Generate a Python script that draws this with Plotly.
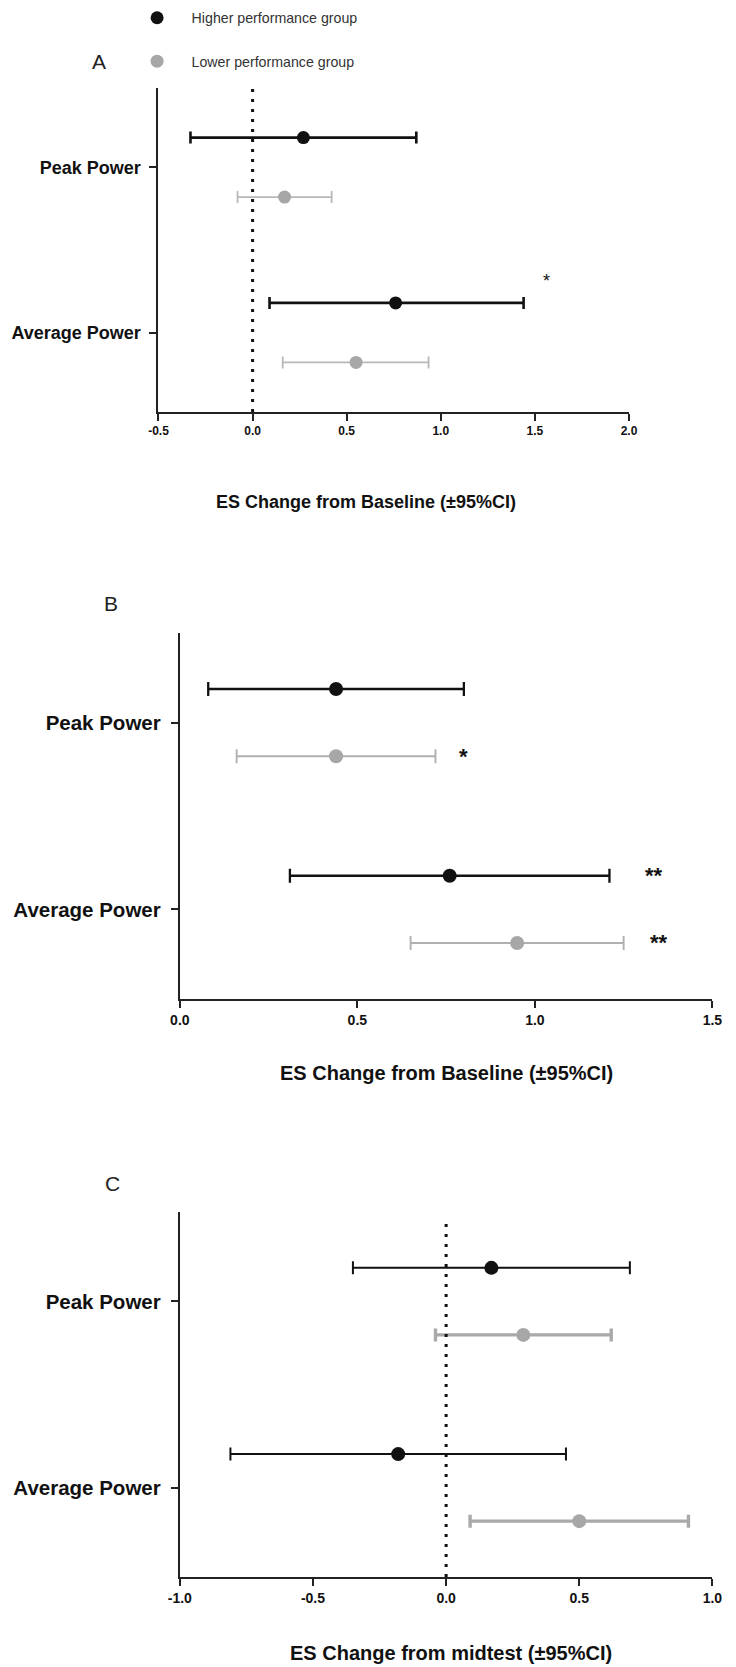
import plotly.graph_objects as go

W, H = 736, 1667

categories = ["Peak Power", "Average Power"]
groups = ["Higher performance group", "Lower performance group"]

# Panel A  (ES change from baseline)
a_hi_est = [0.27, 0.76]
a_hi_lo = [-0.33, 0.09]
a_hi_hi = [0.87, 1.44]
a_lo_est = [0.17, 0.55]
a_lo_lo = [-0.08, 0.16]
a_lo_hi = [0.42, 0.935]

# Panel B  (ES change from baseline)
b_hi_est = [0.44, 0.76]
b_hi_lo = [0.08, 0.31]
b_hi_hi = [0.80, 1.21]
b_lo_est = [0.44, 0.95]
b_lo_lo = [0.16, 0.65]
b_lo_hi = [0.72, 1.25]

# Panel C  (ES change from midtest)
c_hi_est = [0.17, -0.18]
c_hi_lo = [-0.35, -0.81]
c_hi_hi = [0.69, 0.45]
c_lo_est = [0.29, 0.50]
c_lo_lo = [-0.04, 0.09]
c_lo_hi = [0.62, 0.91]

a_ticks = [-0.5, 0.0, 0.5, 1.0, 1.5, 2.0]
b_ticks = [0.0, 0.5, 1.0, 1.5]
c_ticks = [-1.0, -0.5, 0.0, 0.5, 1.0]

# significance marks: text, x (ES units), row position (category units)
a_sig_text = ["*"]
a_sig_x = [1.56]
a_sig_row = [0.69]
b_sig_text = ["*", "**", "**"]
b_sig_x = [0.80, 1.335, 1.35]
b_sig_row = [0.18, 0.82, 1.18]

x_titles = ["ES Change from Baseline (\u00b195%CI)",
            "ES Change from Baseline (\u00b195%CI)",
            "ES Change from midtest (\u00b195%CI)"]
panel_letters = ["A", "B", "C"]

FONT = "Liberation Sans, Arial, Helvetica, sans-serif"
BLACK = "#111111"
GRAY = "#a7a7a7"
OFF = 0.18


def px_x(p):
    return p / W


def px_y(p):
    return 1 - p / H


panels = [
    dict(est=(a_hi_est, a_lo_est), lo=(a_hi_lo, a_lo_lo), hi=(a_hi_hi, a_lo_hi),
         ticks=a_ticks, rng=[-0.5, 2.0], dom_x=(151, 636), dom_y=(88, 412),
         msize=(13, 13), thick=(2.6, 1.8), ecol=(BLACK, "#b8b8b8"), cap=(6, 6),
         tick_size=12, cat_size=18, standoff=5, title_size=18, title_pos=(365, 502),
         letter_pos=(90, 61), dot=(88, 412), show_zero=True),
    dict(est=(b_hi_est, b_lo_est), lo=(b_hi_lo, b_lo_lo), hi=(b_hi_hi, b_lo_hi),
         ticks=b_ticks, rng=[0.0, 1.5], dom_x=(173, 722), dom_y=(633, 999),
         msize=(14, 14), thick=(2.3, 1.9), ecol=(BLACK, "#b0b0b0"), cap=(7, 7),
         tick_size=14, cat_size=20.5, standoff=6, title_size=20, title_pos=(448, 1073),
         letter_pos=(102, 603), dot=None, show_zero=False),
    dict(est=(c_hi_est, c_lo_est), lo=(c_hi_lo, c_lo_lo), hi=(c_hi_hi, c_lo_hi),
         ticks=c_ticks, rng=[-1.0, 1.0], dom_x=(173, 722), dom_y=(1212, 1577),
         msize=(14, 14), thick=(2.0, 3.4), ecol=(BLACK, "#a9a9a9"), cap=(6.5, 6.5),
         tick_size=14, cat_size=20.5, standoff=6, title_size=20, title_pos=(453, 1653),
         letter_pos=(104, 1183), dot=(1217, 1577), show_zero=True),
]

fig = go.Figure()
annotations = []
shapes = []

for k, p in enumerate(panels):
    xa = "x" if k == 0 else f"x{k+1}"
    ya = "y" if k == 0 else f"y{k+1}"
    for g in range(2):
        ys = [i + (OFF if g == 1 else -OFF) for i in range(len(categories))]
        est = p["est"][g]
        fig.add_trace(go.Scatter(
            x=est, y=ys, xaxis=xa, yaxis=ya, mode="markers",
            name=groups[g], legendgroup=groups[g], showlegend=(k == 0),
            marker=dict(size=p["msize"][g], color=BLACK if g == 0 else GRAY),
            error_x=dict(type="data", symmetric=False,
                         array=[h - e for h, e in zip(p["hi"][g], est)],
                         arrayminus=[e - l for e, l in zip(est, p["lo"][g])],
                         color=p["ecol"][g], thickness=p["thick"][g], width=p["cap"][g]),
            hoverinfo="skip",
        ))
    ax_suffix = "" if k == 0 else str(k + 1)
    fig.layout["xaxis" + ax_suffix] = dict(
        domain=[px_x(p["dom_x"][0]), px_x(p["dom_x"][1])], anchor=ya,
        range=p["rng"], tickvals=p["ticks"],
        ticktext=[f"{t:.1f}" for t in p["ticks"]],
        showline=True, linecolor="#222222", linewidth=2,
        ticks="outside", ticklen=7, tickwidth=2, tickcolor="#222222",
        showgrid=False, zeroline=False, fixedrange=True,
        tickfont=dict(family=FONT, size=p["tick_size"], color="#111111", weight="bold"),
    )
    fig.layout["yaxis" + ax_suffix] = dict(
        domain=[px_y(p["dom_y"][1]), px_y(p["dom_y"][0])], anchor=xa,
        range=[1.48, -0.48], tickvals=[0, 1], ticktext=categories,
        showline=True, linecolor="#222222", linewidth=2,
        ticks="outside", ticklen=7, tickwidth=2, tickcolor="#222222",
        showgrid=False, zeroline=False, fixedrange=True,
        ticklabelstandoff=p["standoff"],
        tickfont=dict(family=FONT, size=p["cat_size"], color="#111111", weight="bold"),
    )
    if p["show_zero"]:
        shapes.append(dict(type="line", xref=xa, yref="paper", x0=0, x1=0,
                           y0=px_y(p["dot"][1]), y1=px_y(p["dot"][0]),
                           line=dict(color="#111111", width=3, dash="3px,7px"),
                           layer="above"))
    annotations.append(dict(text=x_titles[k], xref="paper", yref="paper",
                            x=px_x(p["title_pos"][0]), y=px_y(p["title_pos"][1]),
                            xanchor="center", yanchor="middle", showarrow=False,
                            font=dict(family=FONT, size=p["title_size"], color="#111111",
                                      weight="bold")))
    annotations.append(dict(text=panel_letters[k], xref="paper", yref="paper",
                            x=px_x(p["letter_pos"][0]), y=px_y(p["letter_pos"][1]),
                            xanchor="center", yanchor="middle", showarrow=False,
                            font=dict(family=FONT, size=21, color="#222222")))

for t, x, r in zip(a_sig_text, a_sig_x, a_sig_row):
    annotations.append(dict(text=t, xref="x", yref="y", x=x, y=r, showarrow=False,
                            xanchor="center", yanchor="middle",
                            font=dict(family=FONT, size=18, color="#111111")))
for t, x, r in zip(b_sig_text, b_sig_x, b_sig_row):
    annotations.append(dict(text=t, xref="x2", yref="y2", x=x, y=r, showarrow=False,
                            xanchor="center", yanchor="middle",
                            font=dict(family=FONT, size=22, color="#111111",
                                      weight="bold")))

fig.update_layout(
    width=W, height=H, autosize=False,
    margin=dict(l=0, r=0, t=0, b=0),
    paper_bgcolor="white", plot_bgcolor="white",
    shapes=shapes, annotations=annotations,
    legend=dict(x=px_x(114), y=px_y(2), xanchor="left", yanchor="top",
                font=dict(family=FONT, size=14.2, color="#333333"),
                itemsizing="trace", tracegroupgap=22, itemwidth=59,
                bgcolor="rgba(0,0,0,0)"),
)

fig.write_html("out.html", config={"displayModeBar": False},
               post_script="document.body.style.margin='0';")
